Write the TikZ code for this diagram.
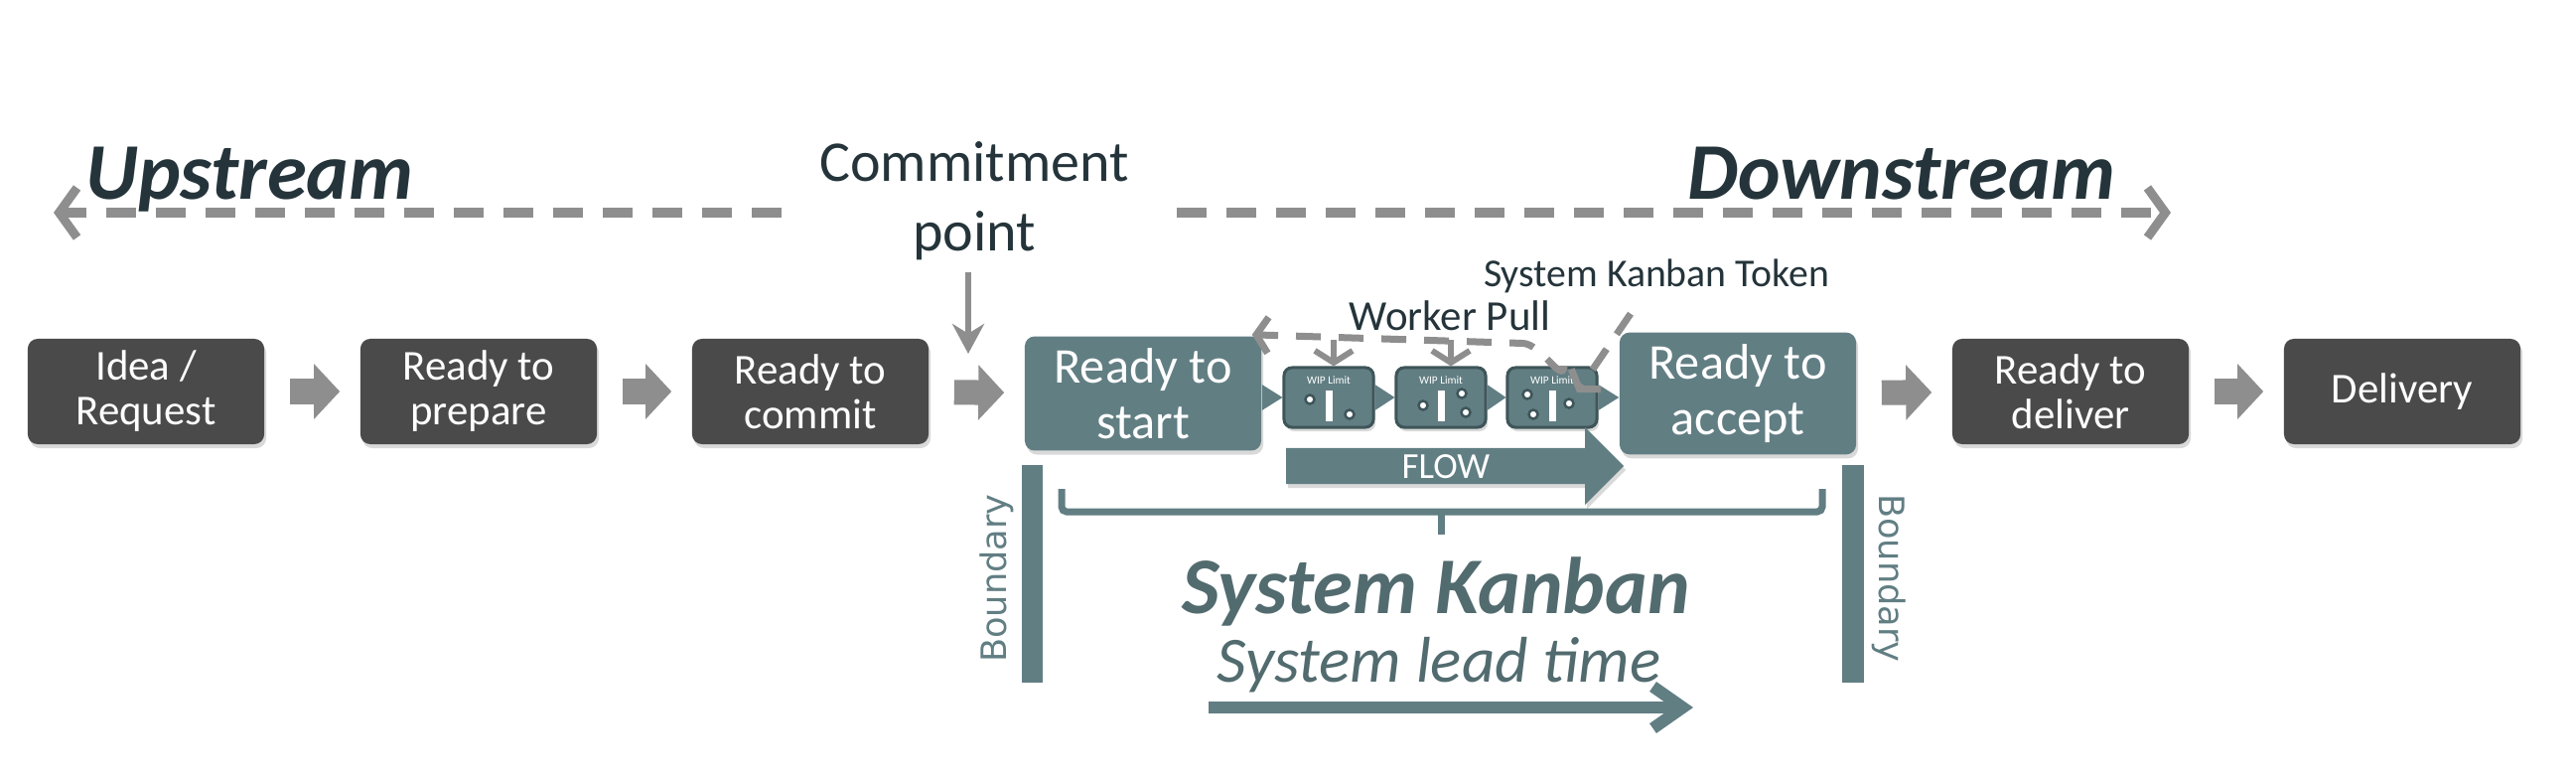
\documentclass[tikz,border=0pt]{standalone}
\usepackage{fontspec}
\setmainfont{Carlito}
\newfontfamily\bndfont{DejaVu Sans}
\usetikzlibrary{arrows.meta,shapes.arrows,shadows,calc}

\definecolor{kteal}{HTML}{617E83}
\definecolor{kedge}{HTML}{3E5559}
\definecolor{kbox}{HTML}{4A4A4A}
\definecolor{kgrey}{HTML}{8E8E8E}
\definecolor{kink}{HTML}{24343A}

\tikzset{
  boxshadow/.style={drop shadow={shadow xshift=0.02cm, shadow yshift=-0.04cm, opacity=.3}},
  stage/.style={rounded corners=0.1cm, fill=kbox, text=white, align=center,
    minimum width=2.38cm, minimum height=1.06cm, boxshadow,
    font=\fontsize{12.2}{12.8}\selectfont},
  sysstage/.style={stage, fill=kteal, font=\fontsize{14.3}{16}\selectfont},
  wipbox/.style={rounded corners=0.08cm, fill=kteal, draw=kedge, line width=0.03cm,
    minimum width=0.9cm, minimum height=0.6cm, boxshadow},
  wiplabel/.style={text=white, inner sep=0pt, font=\fontsize{3.2}{4}\selectfont},
  wipdot/.style={fill=white, draw=kedge, line width=0.025cm},
  handoff/.style={kgrey, line width=0.25cm, shorten <=0.25cm, shorten >=0.2cm,
    -{Triangle[length=0.26cm,width=0.54cm]}},
  stream/.style={kgrey, line width=0.09cm, dash pattern=on 0.30cm off 0.20cm,
    -{Straight Barb[length=0.18cm,width=0.5cm]}},
  pull/.style={kgrey, line width=0.07cm, dash pattern=on 0.25cm off 0.18cm,
    -{Straight Barb[length=0.12cm,width=0.36cm]}},
  pulldown/.style={kgrey, line width=0.06cm, -{Straight Barb[length=0.12cm,width=0.38cm]}},
  bracket/.style={kteal, line width=0.07cm, rounded corners=0.05cm},
  note/.style={text=kink, inner sep=0pt, align=center},
  flowarrow/.style={single arrow, fill=kteal, text=white, minimum height=3.4cm,
    minimum width=0.77cm, single arrow head extend=0.21cm, text height=0.25cm,
    text depth=0cm, inner ysep=0.05cm, boxshadow, font=\fontsize{10.5}{12}\selectfont},
}

\begin{document}
\begin{tikzpicture}[x=0.01cm,y=-0.01cm]
  \useasboundingbox (0,0) rectangle (2594,788);

  % stages along the value stream
  \node[stage] (idea) at (147,394) {Idea /\\Request};
  \node[stage] (prep) at (482,394) {Ready to\\prepare};
  \node[stage] (commit) at (816,394) {Ready to\\commit};
  \node[sysstage] (start) at (1151,396) {Ready to\\start};
  \node[wipbox] (wip1) at (1338,400) {};
  \node[wipbox] (wip2) at (1451,400) {};
  \node[wipbox] (wip3) at (1563,400) {};
  \node[sysstage] (accept) at (1750,396) {Ready to\\accept};
  \node[stage] (deliver) at (2085,394) {Ready to\\deliver};
  \node[stage] (delivery) at (2419,394) {Delivery};

  \foreach \a/\b in {idea/prep, prep/commit, commit/start, accept/deliver, deliver/delivery}
    \draw[handoff] (\a) -- (\b);

  \foreach \a/\b in {start/wip1, wip1/wip2, wip2/wip3, wip3/accept}
    \fill[kteal] ($(\a.east |- wip1.center)+(0,-13)$) -- (\b.west |- wip1.center)
      -- ($(\a.east |- wip1.center)+(0,13)$) -- cycle;

  % inside the WIP limit tokens
  \foreach \w in {wip1,wip2,wip3} {
    \node[wiplabel] at ($(\w.center)+(0,-17)$) {WIP Limit};
    \fill[white] ($(\w.center)+(-3,-7)$) rectangle ($(\w.center)+(4,24)$);
  }
  \foreach \w/\dx/\dy in {wip1/-19/2, wip1/21/17, wip2/-18/8, wip2/21/-4, wip2/25/15,
                          wip3/-25/-3, wip3/-19/17, wip3/17/6}
    \filldraw[wipdot] ($(\w.center)+(\dx,\dy)$) circle[radius=0.045cm];

  % upstream / downstream
  \node[note, anchor=base west, font=\bfseries\itshape\fontsize{23}{27}\selectfont] (up) at (86,200) {Upstream};
  \node[note, anchor=base east, font=\bfseries\itshape\fontsize{23}{27}\selectfont] (down) at (2131,200) {Downstream};
  \coordinate (upl) at (54,214);
  \coordinate (upr) at (787,214);
  \coordinate (downl) at (1185,214);
  \coordinate (downr) at (2186,214);
  \draw[stream] (upr) -- (upl);
  \draw[stream] (downl) -- (downr);

  \node[note, font=\fontsize{16.5}{19.9}\selectfont] (cpoint) at (981,202) {Commitment\\point};
  \coordinate (cpin) at (975,356);
  \draw[kgrey, line width=0.06cm, -{Stealth[length=0.3cm,width=0.32cm]}] ($(cpoint.south -| cpin)+(0,12)$) -- (cpin);

  % pulling work through the system
  \node[note, font=\fontsize{12.2}{14}\selectfont] (pull) at (1460,318) {Worker Pull};
  \node[note, font=\fontsize{11.3}{14}\selectfont] (token) at (1668,278) {System Kanban Token};
  \coordinate (pullend) at ($(start.north east)+(-10,-1)$);
  \draw[pull] ($(wip3.north)+(12,0)$) to[out=-95,in=0] ($(wip3.north)+(-30,-23)$) -- (pullend);
  \draw[pulldown] ($(wip1.north)+(5,-26)$) -- ($(wip1.north)+(5,0)$);
  \draw[pulldown] ($(wip2.north)+(10,-26)$) -- ($(wip2.north)+(10,0)$);
  \coordinate (tokfrom) at ($(token.south)+(-26,20)$);
  \coordinate (tokto) at ($(wip3.center)+(25,-5)$);
  \draw[pull] (tokfrom) -- (tokto);

  \node[flowarrow] (flow) at (1456,469) {FLOW};

  % system boundary and lead time
  \draw[bracket] (1069,492) -- (1069,515) -- (1835,515) -- (1835,492);
  \draw[bracket] (1451,515) -- (1451,538);
  \fill[kteal] (1029,468) rectangle (1050,687);
  \fill[kteal] (1855,468) rectangle (1877,687);
  \node[text=kteal, rotate=90, font=\bndfont\fontsize{10}{12}\selectfont] (bndl) at (1004,582) {Boundary};
  \node[text=kteal, rotate=-90, font=\bndfont\fontsize{10}{12}\selectfont] (bndr) at (1902,582) {Boundary};

  \node[anchor=base, text=kteal!85!black, font=\bfseries\itshape\fontsize{23}{27}\selectfont] (sysk) at (1446,617) {System Kanban};
  \node[anchor=base, text=kteal!85!black, font=\itshape\fontsize{18.5}{22}\selectfont] (lead) at (1449,686) {System lead time};
  \coordinate (lt0) at (1217,712);
  \coordinate (lt1) at (1705,712);
  \draw[kteal, line width=0.12cm, -{Straight Barb[length=0.3cm,width=0.42cm]}] (lt0) -- (lt1);
\end{tikzpicture}
\end{document}
